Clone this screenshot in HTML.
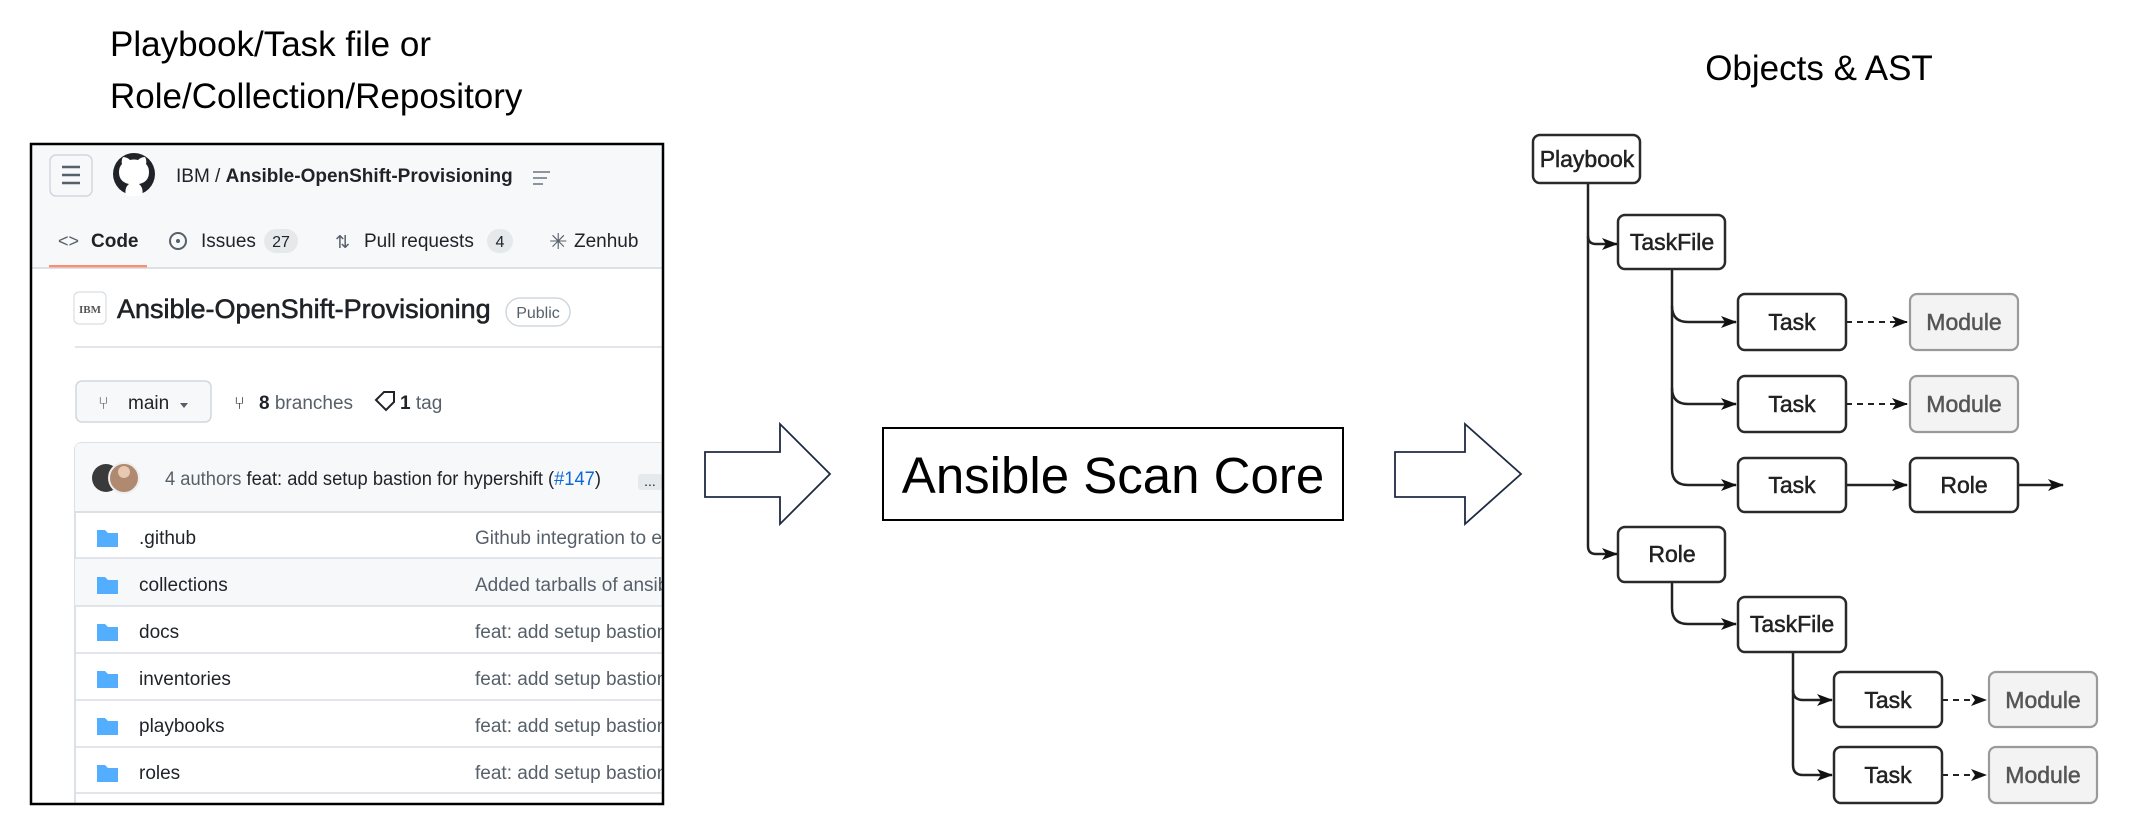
<!DOCTYPE html>
<html><head><meta charset="utf-8"><style>
html,body{margin:0;padding:0;background:#fff;}
svg{display:block;}
</style></head><body>
<svg width="2136" height="834" viewBox="0 0 2136 834" xmlns="http://www.w3.org/2000/svg">
<defs>
<marker id="ah" viewBox="0 0 16 12" refX="15" refY="6" markerWidth="16" markerHeight="12" markerUnits="userSpaceOnUse" orient="auto">
<path d="M0,0 L16,6 L0,12 L4,6 Z" fill="#111"/>
</marker>
<clipPath id="shot"><rect x="32" y="145" width="630" height="659"/></clipPath>
</defs>

<g font-family="Liberation Sans, sans-serif" font-size="35" fill="#000">
<text x="110" y="56">Playbook/Task file or</text>
<text x="110" y="108">Role/Collection/Repository</text>
</g>

<g clip-path="url(#shot)" font-family="Liberation Sans, sans-serif">
<rect x="31" y="144" width="632" height="123" fill="#f6f8fa"/>
<rect x="50" y="155" width="42" height="41" rx="6" fill="#f6f8fa" stroke="#d0d7de" stroke-width="1.5"/>
<g stroke="#57606a" stroke-width="2.5"><line x1="62" y1="167" x2="80" y2="167"/><line x1="62" y1="175" x2="80" y2="175"/><line x1="62" y1="183" x2="80" y2="183"/></g>
<circle cx="134" cy="174" r="21" fill="#1f2328"/>
<path d="M126,196 q-2,-8 3,-12 q-10,-2 -10,-12 q0,-5 3,-8 q-1,-4 1,-7 q4,0 7,3 q4,-1 8,0 q3,-3 7,-3 q2,3 1,7 q3,3 3,8 q0,10 -10,12 q5,4 3,12 Z" fill="#fff"/>
<text x="176" y="182" font-size="19" fill="#1f2328">IBM  /  <tspan font-weight="bold">Ansible-OpenShift-Provisioning</tspan></text>
<g stroke="#8c959f" stroke-width="2"><line x1="533" y1="172" x2="550" y2="172"/><line x1="533" y1="178" x2="547" y2="178"/><line x1="533" y1="184" x2="543" y2="184"/></g>
<text x="58" y="247" font-size="18" fill="#57606a">&lt;&gt;</text>
<text x="91" y="247" font-size="19" font-weight="bold" fill="#1f2328">Code</text>
<rect x="49" y="265" width="98" height="3" fill="#fd8c73"/>
<line x1="31" y1="268" x2="663" y2="268" stroke="#d0d7de" stroke-width="1.5"/>
<circle cx="178" cy="241" r="8" fill="none" stroke="#57606a" stroke-width="2"/><circle cx="178" cy="241" r="2" fill="#57606a"/>
<text x="201" y="247" font-size="19" fill="#1f2328">Issues</text>
<rect x="264" y="229" width="34" height="24" rx="12" fill="#e6e9ec"/>
<text x="281" y="247" font-size="16" fill="#1f2328" text-anchor="middle">27</text>
<text x="335" y="248" font-size="18" fill="#57606a">⇅</text>
<text x="364" y="247" font-size="19" fill="#1f2328">Pull requests</text>
<rect x="487" y="229" width="26" height="24" rx="12" fill="#e6e9ec"/>
<text x="500" y="247" font-size="16" fill="#1f2328" text-anchor="middle">4</text>
<text x="549" y="249" font-size="22" fill="#57606a">✳</text>
<text x="574" y="247" font-size="19" fill="#1f2328">Zenhub</text>
<rect x="74" y="292" width="32" height="32" rx="5" fill="#fff" stroke="#d0d7de"/>
<text x="90" y="313" font-size="11" font-family="Liberation Serif, serif" font-weight="bold" fill="#555" text-anchor="middle">IBM</text>
<text x="117" y="318" font-size="27" fill="#1f2328" stroke="#1f2328" stroke-width="0.6">Ansible-OpenShift-Provisioning</text>
<rect x="506" y="298" width="64" height="28" rx="14" fill="#fff" stroke="#d0d7de" stroke-width="1.5"/>
<text x="538" y="318" font-size="16" fill="#57606a" text-anchor="middle">Public</text>
<line x1="75" y1="347" x2="663" y2="347" stroke="#d8dee4" stroke-width="1.5"/>
<rect x="76" y="381" width="135" height="41" rx="6" fill="#f6f8fa" stroke="#d0d7de" stroke-width="1.5"/>
<text x="98" y="409" font-size="18" fill="#57606a">⑂</text>
<text x="128" y="409" font-size="19" fill="#1f2328">main</text>
<path d="M180,403 l8,0 l-4,5 z" fill="#57606a"/>
<text x="234" y="409" font-size="18" fill="#1f2328">⑂</text>
<text x="259" y="409" font-size="19" fill="#57606a"><tspan font-weight="bold" fill="#1f2328">8</tspan> branches</text>
<path d="M376,400 l8,-8 l10,0 l0,10 l-8,8 z" fill="none" stroke="#1f2328" stroke-width="2"/>
<text x="400" y="409" font-size="19" fill="#57606a"><tspan font-weight="bold" fill="#1f2328">1</tspan> tag</text>
<rect x="75" y="443" width="620" height="370" rx="6" fill="#fff" stroke="#d0d7de" stroke-width="1.5"/>
<path d="M75,512 L75,449 Q75,443 81,443 L695,443 L695,512 Z" fill="#f6f8fa"/>
<line x1="75" y1="512" x2="663" y2="512" stroke="#d0d7de" stroke-width="1.5"/>
<circle cx="106" cy="478" r="14" fill="#3a3a3a"/><circle cx="124" cy="478" r="15" fill="#b08a70" stroke="#eee" stroke-width="2"/><circle cx="124" cy="472" r="6" fill="#e8c8b0"/>
<text x="165" y="485" font-size="19" fill="#1f2328" textLength="436" lengthAdjust="spacingAndGlyphs"><tspan fill="#57606a">4 authors</tspan> feat: add setup bastion for hypershift (<tspan fill="#0969da">#147</tspan>)</text>
<rect x="638" y="474" width="25" height="16" rx="3" fill="#e6e9ec"/><text x="650" y="486" font-size="14" fill="#1f2328" text-anchor="middle">...</text>
<rect x="75" y="558" width="600" height="48" fill="#f6f8fa"/>
<g stroke="#d8dee4" stroke-width="1.5">
<line x1="75" y1="558" x2="663" y2="558"/><line x1="75" y1="606" x2="663" y2="606"/><line x1="75" y1="653" x2="663" y2="653"/>
<line x1="75" y1="700" x2="663" y2="700"/><line x1="75" y1="747" x2="663" y2="747"/><line x1="75" y1="793" x2="663" y2="793"/>
</g>
<g fill="#54aeff">
<path d="M97,530 h8 l3,3 h10 v14 h-21 z"/><path d="M97,577 h8 l3,3 h10 v14 h-21 z"/><path d="M97,624 h8 l3,3 h10 v14 h-21 z"/>
<path d="M97,671 h8 l3,3 h10 v14 h-21 z"/><path d="M97,718 h8 l3,3 h10 v14 h-21 z"/><path d="M97,765 h8 l3,3 h10 v14 h-21 z"/>
</g>
<g font-size="19" fill="#1f2328">
<text x="139" y="544">.github</text><text x="139" y="591">collections</text><text x="139" y="638">docs</text>
<text x="139" y="685">inventories</text><text x="139" y="732">playbooks</text><text x="139" y="779">roles</text>
</g>
<g font-size="19" fill="#57606a">
<text x="475" y="544">Github integration to enable</text><text x="475" y="591">Added tarballs of ansible</text><text x="475" y="638">feat: add setup bastion</text>
<text x="475" y="685">feat: add setup bastion</text><text x="475" y="732">feat: add setup bastion</text><text x="475" y="779">feat: add setup bastion</text>
</g>
</g>
<rect x="31" y="144" width="632" height="660" fill="none" stroke="#000" stroke-width="2.5"/>

<path d="M705,452 L780,452 L780,424 L830,474 L780,524 L780,497 L705,497 Z" fill="#fff" stroke="#1f2a44" stroke-width="1.8"/>
<rect x="883" y="428" width="460" height="92" fill="#fff" stroke="#000" stroke-width="2"/>
<text x="1113" y="493" font-family="Liberation Sans, sans-serif" font-size="51" fill="#000" text-anchor="middle">Ansible Scan Core</text>
<path d="M1395,452 L1465,452 L1465,424 L1521,474 L1465,524 L1465,497 L1395,497 Z" fill="#fff" stroke="#1f2a44" stroke-width="1.8"/>

<text x="1819" y="80" font-family="Liberation Sans, sans-serif" font-size="35" fill="#000" text-anchor="middle">Objects &amp; AST</text>

<g fill="none" stroke="#222" stroke-width="2.5">
<path d="M1588,183 L1588,236 Q1588,244 1596,244 L1617,244" marker-end="url(#ah)"/>
<path d="M1588,236 L1588,546 Q1588,554 1596,554 L1617,554" marker-end="url(#ah)"/>
<path d="M1672,269 L1672,306 Q1672,322 1688,322 L1736,322" marker-end="url(#ah)"/>
<path d="M1672,306 L1672,388 Q1672,404 1688,404 L1736,404" marker-end="url(#ah)"/>
<path d="M1672,388 L1672,469 Q1672,485 1688,485 L1736,485" marker-end="url(#ah)"/>
<path d="M1672,582 L1672,608 Q1672,624 1688,624 L1736,624" marker-end="url(#ah)"/>
<path d="M1793,652 L1793,690 Q1793,700 1803,700 L1832,700" marker-end="url(#ah)"/>
<path d="M1793,690 L1793,765 Q1793,775 1803,775 L1832,775" marker-end="url(#ah)"/>
<path d="M1846,485 L1907,485" marker-end="url(#ah)"/>
<path d="M2018,485 L2063,485" marker-end="url(#ah)"/>
<path d="M1846,322 L1907,322" stroke-dasharray="6,5" stroke-width="2" marker-end="url(#ah)"/>
<path d="M1846,404 L1907,404" stroke-dasharray="6,5" stroke-width="2" marker-end="url(#ah)"/>
<path d="M1942,700 L1986,700" stroke-dasharray="6,5" stroke-width="2" marker-end="url(#ah)"/>
<path d="M1942,775 L1986,775" stroke-dasharray="6,5" stroke-width="2" marker-end="url(#ah)"/>
</g>

<g stroke="#2a2a2a" stroke-width="2.5" fill="#fff">
<rect x="1533" y="135" width="107" height="48" rx="7"/>
<rect x="1618" y="215" width="107" height="54" rx="7"/>
<rect x="1738" y="294" width="108" height="56" rx="7"/>
<rect x="1738" y="376" width="108" height="56" rx="7"/>
<rect x="1738" y="458" width="108" height="54" rx="7"/>
<rect x="1910" y="458" width="108" height="54" rx="7"/>
<rect x="1618" y="527" width="107" height="55" rx="7"/>
<rect x="1738" y="597" width="108" height="55" rx="7"/>
<rect x="1834" y="672" width="108" height="55" rx="7"/>
<rect x="1834" y="747" width="108" height="56" rx="7"/>
</g>
<g stroke="#9a9a9a" stroke-width="2.2" fill="#f3f3f3">
<rect x="1910" y="294" width="108" height="56" rx="7"/>
<rect x="1910" y="376" width="108" height="56" rx="7"/>
<rect x="1989" y="672" width="108" height="55" rx="7"/>
<rect x="1989" y="747" width="108" height="56" rx="7"/>
</g>
<g font-family="Liberation Sans, sans-serif" font-size="23" fill="#222" stroke="#222" stroke-width="0.5" text-anchor="middle">
<text x="1587" y="167">Playbook</text>
<text x="1672" y="250">TaskFile</text>
<text x="1792" y="330">Task</text>
<text x="1792" y="412">Task</text>
<text x="1792" y="493">Task</text>
<text x="1964" y="493">Role</text>
<text x="1672" y="562">Role</text>
<text x="1792" y="632">TaskFile</text>
<text x="1888" y="708">Task</text>
<text x="1888" y="783">Task</text>
<g fill="#555" stroke="#555">
<text x="1964" y="330">Module</text>
<text x="1964" y="412">Module</text>
<text x="2043" y="708">Module</text>
<text x="2043" y="783">Module</text>
</g>
</g>
</svg>
</body></html>
